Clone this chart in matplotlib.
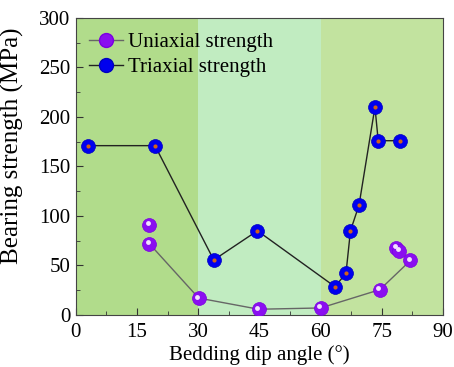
import matplotlib
matplotlib.use('Agg')
import matplotlib.pyplot as plt
from matplotlib.ticker import MultipleLocator
from matplotlib.lines import Line2D

plt.rcParams['font.family'] = ['Liberation Serif', 'DejaVu Serif']

# Data
uni_angle = [18.0, 30.1, 44.8, 60.0, 74.5, 82.0]
uni_strength = [72, 17, 5.7, 7, 25.5, 55]
uni_extra_angle = [18.0, 78.5, 79.3]
uni_extra_strength = [91, 68, 65]

tri_angle = [3.0, 19.4, 33.8, 44.5, 63.5, 66.2, 67.3, 69.4, 73.3, 74.1, 79.4]
tri_strength = [171, 171, 55.5, 85, 28.5, 42, 85, 111, 210, 176, 176]

zones = [(0, 30, '#b1dc8b'), (30, 60, '#c1ecc1'), (60, 90, '#c2e39f')]

fig = plt.figure(figsize=(4.54, 3.67), dpi=100)
ax = fig.add_axes([0.167, 0.142, 0.809, 0.809])

for x0, x1, c in zones:
    ax.axvspan(x0, x1, color=c, lw=0, zorder=0)

# Uniaxial: purple spheres with white highlight
ax.plot(uni_angle, uni_strength, '-', color='#666666', lw=1, zorder=2)
all_ux = uni_angle + uni_extra_angle
all_uy = uni_strength + uni_extra_strength
ax.plot(all_ux, all_uy, 'o', ms=10, mfc='#8a0ff0', mec='#7a00e0', mew=0.5, ls='none', zorder=3)
ax.plot([x - 0.4 for x in all_ux], [y + 1.5 for y in all_uy], 'o', ms=3.5,
        mfc='#f2e0ff', mec='none', ls='none', zorder=4)

# Triaxial: blue spheres with orange core
ax.plot(tri_angle, tri_strength, '-', color='#222222', lw=1, zorder=2)
ax.plot(tri_angle, tri_strength, 'o', ms=10, mfc='#0000ee', mec='#0000c0', mew=0.5, ls='none', zorder=3)
ax.plot(tri_angle, tri_strength, 'o', ms=3, mfc='#d2601a', mec='none', ls='none', zorder=4)

ax.set_xlim(0, 90)
ax.set_ylim(0, 300)
ax.xaxis.set_major_locator(MultipleLocator(15))
ax.xaxis.set_minor_locator(MultipleLocator(7.5))
ax.yaxis.set_major_locator(MultipleLocator(50))
ax.yaxis.set_minor_locator(MultipleLocator(25))
ax.tick_params(which='both', direction='in', labelsize=15, color='#333333')
ax.tick_params(which='major', length=5)
ax.tick_params(which='minor', length=3)
ax.tick_params(axis='x', which='major', pad=6)
ax.tick_params(axis='y', which='major', pad=4)
for s in ax.spines.values():
    s.set_color('#444444')

ax.set_xlabel('Bedding dip angle (°)', fontsize=15, labelpad=2)
ax.set_ylabel('Bearing strength (MPa)', fontsize=18, labelpad=0)
ax.yaxis.set_label_coords(-0.14, 0.57)

h1 = Line2D([], [], color='#666666', lw=1, marker='o', ms=10, mfc='#8a0ff0', mec='#7a00e0')
h2 = Line2D([], [], color='#222222', lw=1, marker='o', ms=10, mfc='#0000ee', mec='#0000c0')
ax.legend([h1, h2], ['Uniaxial strength', 'Triaxial strength'], loc='upper left',
          bbox_to_anchor=(0.008, 0.985), frameon=False, fontsize=15, handlelength=1.6,
          handletextpad=0.25, borderaxespad=0.3, labelspacing=0.25, borderpad=0.2)

fig.savefig('out.png', dpi=100)
